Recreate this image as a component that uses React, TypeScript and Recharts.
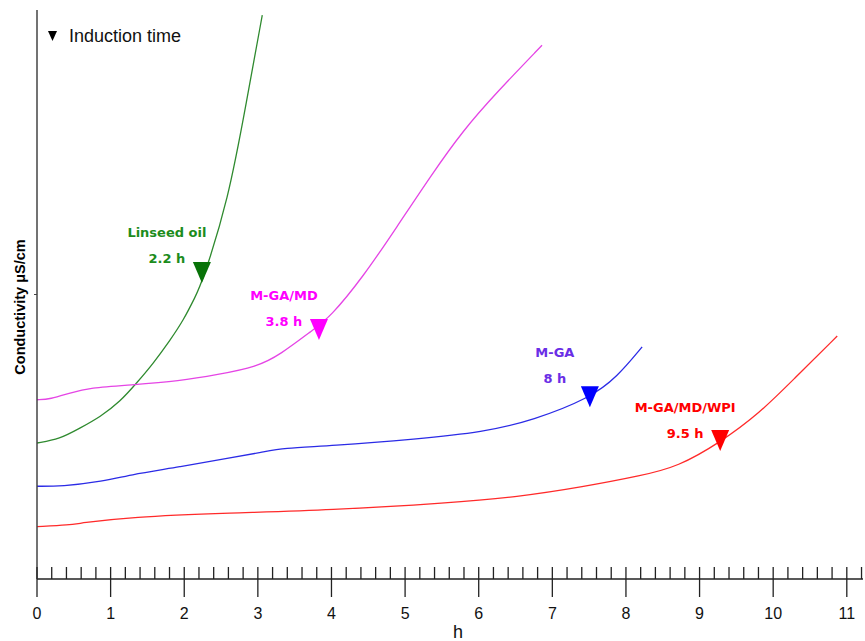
import {
  ComposedChart,
  Line,
  XAxis,
  YAxis,
  ReferenceDot,
  Legend,
} from "recharts";

// conductivity curves (arbitrary units, 0-100)
const linseedHours = [0, 0.31, 0.58, 0.86, 1.13, 1.35, 1.58, 1.81, 1.99, 2.15, 2.24, 2.6, 2.85, 3.06];
const linseedValues = [23.9, 24.6, 26.5, 28.5, 31.2, 34.4, 37.9, 42.0, 45.5, 49.6, 52.0, 66.6, 84.2, 99.1];

const gaMdHours = [0, 0.18, 0.45, 0.72, 1.26, 1.94, 2.45, 2.99, 3.3, 3.75, 3.98, 4.43, 4.89, 5.34, 5.79, 6.25, 6.86];
const gaMdValues = [31.5, 31.6, 32.7, 33.6, 34.1, 34.8, 35.9, 37.3, 39.4, 43.8, 46.0, 53.1, 61.9, 70.7, 78.9, 85.6, 93.8];

const gaHours = [0, 0.35, 0.82, 1.26, 1.94, 2.62, 3.07, 3.34, 3.98, 5.16, 6.06, 6.74, 7.51, 7.88, 8.22];
const gaValues = [16.3, 16.3, 17.0, 18.3, 19.7, 21.3, 22.3, 23.0, 23.4, 24.6, 25.8, 27.9, 31.8, 35.5, 40.8];

const wpiHours = [0, 0.45, 0.58, 1.26, 2.62, 3.98, 5.61, 6.52, 7.42, 8.22, 8.7, 9.28, 9.82, 10.27, 10.87];
const wpiValues = [9.2, 9.5, 9.8, 10.9, 11.6, 12.1, 13.4, 14.4, 16.2, 18.2, 19.7, 24.0, 29.2, 35.0, 42.7];

// induction time markers (tip of the triangle)
const inductionLabels = ["Linseed oil", "M-GA/MD", "M-GA", "M-GA/MD/WPI"];
const inductionTimes = ["2.2 h", "3.8 h", "8 h", "9.5 h"];
const markerHours = [2.24, 3.83, 7.51, 9.28];
const markerValues = [52.0, 42.0, 30.2, 22.5];

const majorTicks = [0, 1, 2, 3, 4, 5, 6, 7, 8, 9, 10, 11];
const allTicks = Array.from({ length: 57 }, (_, i) => Math.round(i * 2) / 10);

const toPoints = (hours: number[], values: number[]) =>
  hours.map((x, i) => ({ x, y: values[i] }));

const linseed = toPoints(linseedHours, linseedValues);
const gaMd = toPoints(gaMdHours, gaMdValues);
const ga = toPoints(gaHours, gaValues);
const wpi = toPoints(wpiHours, wpiValues);

const HourTick = (props: any) => {
  const { x, y, payload } = props;
  const v = payload.value;
  const major = majorTicks.some((m) => Math.abs(m - v) < 1e-6);
  return (
    <g>
      {major ? (
        <>
          <line x1={x} x2={x} y1={y - 12} y2={y + 18} stroke="#222" strokeWidth={1.3} />
          <text
            x={x}
            y={y + 40}
            textAnchor="middle"
            fontFamily="Liberation Sans, Arial, sans-serif"
            fontSize={16}
            fill="#111"
          >
            {v}
          </text>
        </>
      ) : (
        <line x1={x} x2={x} y1={y - 12} y2={y} stroke="#222" strokeWidth={1.3} />
      )}
    </g>
  );
};

const makeMarker =
  (idx: number, fill: string, labelColor: string, firstLine: number) => (props: any) => {
    const { cx, cy } = props;
    const font = "DejaVu Sans, Verdana, sans-serif";
    return (
      <g>
        <polygon
          points={`${cx - 9},${cy - 21} ${cx + 9},${cy - 21} ${cx},${cy}`}
          fill={fill}
        />
        <text
          x={cx - 35}
          y={cy + firstLine}
          textAnchor="middle"
          fontFamily={font}
          fontWeight="bold"
          fontSize={13}
          fill={labelColor}
        >
          {inductionLabels[idx]}
        </text>
        <text
          x={cx - 35}
          y={cy + firstLine + 26}
          textAnchor="middle"
          fontFamily={font}
          fontWeight="bold"
          fontSize={13}
          fill={labelColor}
        >
          {inductionTimes[idx]}
        </text>
      </g>
    );
  };

const InductionLegend = () => (
  <div
    style={{
      display: "flex",
      alignItems: "center",
      fontFamily: "Liberation Sans, Arial, sans-serif",
      fontSize: 18,
      color: "#111",
      whiteSpace: "nowrap",
    }}
  >
    <svg width={10} height={11} style={{ marginRight: 11 }}>
      <polygon points="0,0 9,0 4.5,10" fill="#000" />
    </svg>
    Induction time
  </div>
);

export default function App() {
  return (
    <div style={{ position: "absolute", left: 0, top: 0, background: "#fff" }}>
      <ComposedChart
        width={865}
        height={641}
        margin={{ top: 10, right: 2, bottom: 0, left: 0 }}
      >
        <XAxis
          type="number"
          dataKey="x"
          domain={[0, 11.22]}
          ticks={allTicks}
          interval={0}
          allowDataOverflow
          height={62}
          tickSize={0}
          tickMargin={0}
          tickLine={false}
          axisLine={{ stroke: "#222", strokeWidth: 1.3 }}
          tick={HourTick}
          label={{
            value: "h",
            content: (p: any) => (
              <text
                x={p.viewBox.x + p.viewBox.width / 2 + 8}
                y={p.viewBox.y + 59}
                textAnchor="middle"
                fontFamily="Liberation Sans, Arial, sans-serif"
                fontSize={18}
                fill="#111"
              >
                h
              </text>
            ),
          }}
        />
        <YAxis
          type="number"
          domain={[0, 100]}
          ticks={[50]}
          width={37}
          tickSize={3}
          tickFormatter={() => ""}
          axisLine={{ stroke: "#444", strokeWidth: 1.5 }}
          tickLine={{ stroke: "#444" }}
          label={{
            value: "Conductivity μS/cm",
            content: () => (
              <text
                x={25}
                y={307}
                transform="rotate(-90 25 307)"
                textAnchor="middle"
                fontFamily="Liberation Sans, Arial, sans-serif"
                fontWeight="bold"
                fontSize={14.5}
                fill="#000"
              >
                Conductivity μS/cm
              </text>
            ),
          }}
        />
        <Legend
          layout="horizontal"
          verticalAlign="middle"
          align="center"
          wrapperStyle={{ top: 26, left: 48, width: "auto", height: "auto" }}
          content={() => <InductionLegend />}
        />
        <Line
          data={linseed}
          dataKey="y"
          type="basis"
          stroke="#2f8a2f"
          strokeWidth={1.3}
          dot={false}
          isAnimationActive={false}
          legendType="none"
        />
        <Line
          data={gaMd}
          dataKey="y"
          type="basis"
          stroke="#e545e5"
          strokeWidth={1.3}
          dot={false}
          isAnimationActive={false}
          legendType="none"
        />
        <Line
          data={ga}
          dataKey="y"
          type="basis"
          stroke="#2b2be6"
          strokeWidth={1.3}
          dot={false}
          isAnimationActive={false}
          legendType="none"
        />
        <Line
          data={wpi}
          dataKey="y"
          type="basis"
          stroke="#ff2a2a"
          strokeWidth={1.3}
          dot={false}
          isAnimationActive={false}
          legendType="none"
        />
        <ReferenceDot
          x={markerHours[0]}
          y={markerValues[0]}
          shape={makeMarker(0, "#087208", "#1c8c1c", -46)}
        />
        <ReferenceDot
          x={markerHours[1]}
          y={markerValues[1]}
          shape={makeMarker(1, "#ff00ff", "#ff00ff", -40)}
        />
        <ReferenceDot
          x={markerHours[2]}
          y={markerValues[2]}
          shape={makeMarker(2, "#0000ff", "#6a2ee6", -50)}
        />
        <ReferenceDot
          x={markerHours[3]}
          y={markerValues[3]}
          shape={makeMarker(3, "#ff0000", "#ff0000", -39)}
        />
      </ComposedChart>
    </div>
  );
}
